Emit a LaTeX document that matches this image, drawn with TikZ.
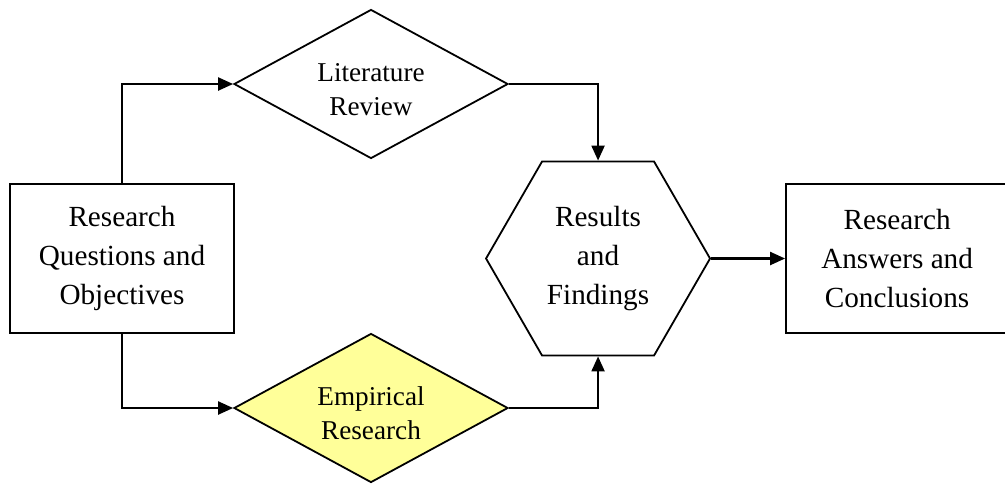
\documentclass[tikz,border=0pt]{standalone}
\usepackage{fontspec}
\setmainfont{Liberation Serif}
\usepackage{tikz}
\usetikzlibrary{positioning, shapes.geometric, arrows.meta}
\usepackage{xcolor}
\definecolor{empfill}{HTML}{FFFF99}

\begin{document}
\begin{tikzpicture}[
        x=0.5pt, y=-0.5pt,
        every node/.style={font=\fontsize{14.6}{19.5}\selectfont},
        box/.style={draw, line width=1pt, align=center, minimum width=112pt,
                    minimum height=74.5pt, inner sep=0pt},
        dia/.style={draw, diamond, line width=0.9pt, align=center, aspect=1.84,
                    minimum width=137pt, minimum height=74.5pt, inner sep=0pt,
                    text height=31.5pt, font=\fontsize{13.6}{17}\selectfont},
        hexa/.style={draw, regular polygon, regular polygon sides=6, line width=0.9pt,
                     align=center, minimum size=112pt, inner sep=0pt},
        arr/.style={-{Triangle[length=7.5pt, width=6.5pt]}, line width=1.1pt}]

      \useasboundingbox (0,0) rectangle (1005,483);

      \node[box] (rq) at (122,258.5) {Research\\Questions and\\Objectives};
      \node[dia] (lit) at (371,84) {Literature\\Review};
      \node[dia, fill=empfill] (emp) at (371,408) {Empirical\\Research};
      \node[hexa, right=125pt of rq] (res) {Results\\and\\Findings};
      \node[box, minimum width=111pt, right=37pt of res] (ans) {Research\\Answers and\\Conclusions};

      \draw[arr] (rq.north) |- (lit.west);
      \draw[arr] (rq.south) |- (emp.west);
      \draw[arr] (lit.east) -| (res.north);
      \draw[arr] (emp.east) -| (res.south);
      \draw[arr] (res.east) -- (ans.west);
    \end{tikzpicture}
\end{document}
